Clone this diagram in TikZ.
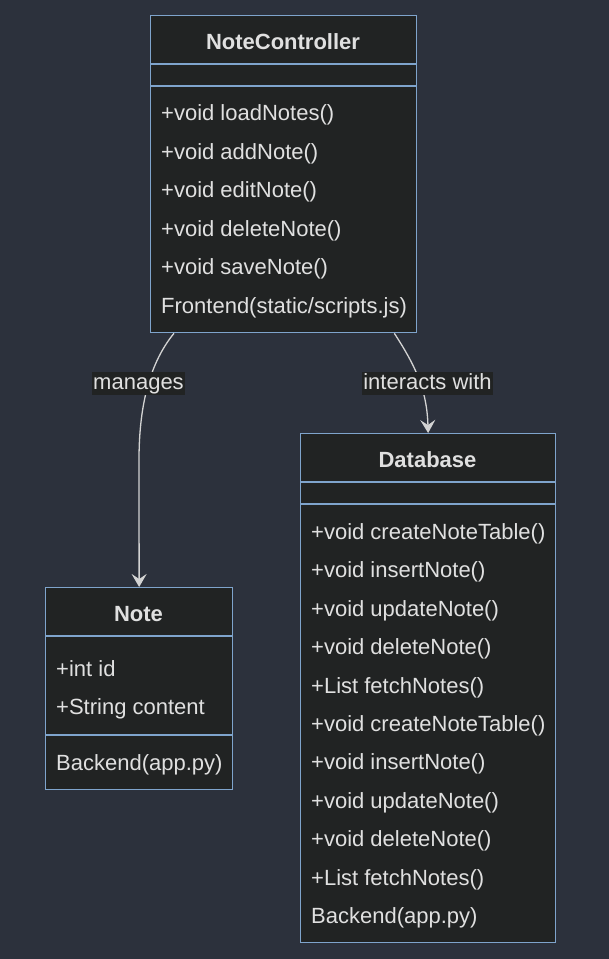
\documentclass[tikz,border=0pt]{standalone}
\usepackage{fontspec}
\setmainfont{Liberation Sans}
\usetikzlibrary{arrows.meta}

\definecolor{bgcol}{HTML}{2C313C}
\definecolor{boxfill}{HTML}{212323}
\definecolor{boxline}{HTML}{7FA4CC}
\definecolor{txtcol}{HTML}{E0E0E0}
\definecolor{arrcol}{HTML}{D3D3D3}

\begin{document}
\begin{tikzpicture}[x=1pt, y=-1pt,
	every node/.style={text=txtcol, font=\fontsize{22}{26}\selectfont, inner sep=0pt},
	classbox/.style={draw=boxline, fill=boxfill, line width=1.3pt, anchor=north west},
	divider/.style={draw=boxline, line width=1.3pt},
	member/.style={anchor=base west},
	title/.style={font=\fontsize{22}{26}\selectfont\bfseries},
	edgelabel/.style={fill=boxfill, text height=17pt, text depth=4pt, inner xsep=1pt, inner ysep=1pt},
	link/.style={draw=arrcol, line width=1.3pt, -{Stealth[length=13pt, width=15pt, inset=5pt]}}]

	% Background
	\fill[bgcol] (0,0) rectangle (609,959);
	\useasboundingbox (0,0) rectangle (609,959);

	% Draw class boxes
	%NoteController
	\node[classbox, minimum width=266pt, minimum height=317pt] (ctrl) at (150,15) {};
	\draw[divider] (150,64) -- (416,64);
	\draw[divider] (150,86) -- (416,86);
	\node[title] (ctrltitle) at (283,42) {NoteController};
	\foreach \m [count=\i from 0] in {+void loadNotes(), +void addNote(), +void editNote(),
		+void deleteNote(), +void saveNote(), Frontend(static/scripts.js)}
		\node[member] (ctrlm\i) at (161,{120.5+38.5*\i}) {\m};

	%Note
	\node[classbox, minimum width=187pt, minimum height=202pt] (note) at (45,587) {};
	\draw[divider] (45,636) -- (232,636);
	\draw[divider] (45,735) -- (232,735);
	\node[title] (notetitle) at (138.5,614) {Note};
	\node[member] (notef1) at (56,676.5) {+int id};
	\node[member] (notef2) at (56,714.5) {+String content};
	\node[member] (notem1) at (56,770.5) {Backend(app.py)};

	%Database
	\node[classbox, minimum width=255pt, minimum height=509pt] (db) at (300,433) {};
	\draw[divider] (300,482) -- (555,482);
	\draw[divider] (300,504) -- (555,504);
	\node[title] (dbtitle) at (427.5,460) {Database};
	\foreach \m [count=\i from 0] in {+void createNoteTable(), +void insertNote(), +void updateNote(),
		+void deleteNote(), +List fetchNotes(), +void createNoteTable(), +void insertNote(),
		+void updateNote(), +void deleteNote(), +List fetchNotes(), Backend(app.py)}
		\node[member] (dbm\i) at (311,{539.5+38.4*\i}) {\m};

	% Draw relations
	\coordinate (ctrlout1) at ([xshift=24pt]ctrl.south west);
	\coordinate (ctrlout2) at ([xshift=-23pt]ctrl.south east);
	\draw[link] (ctrlout1) .. controls (148,365) and (139,410) .. (139,460) -- (note.north);
	\draw[link] (ctrlout2) .. controls (415,365) and (427,390) .. (db.north);

	%Relation labels
	\node[edgelabel] (manages) at (138.5,383) {manages};
	\node[edgelabel] (interacts) at (427.5,383) {interacts with};

\end{tikzpicture}
\end{document}
